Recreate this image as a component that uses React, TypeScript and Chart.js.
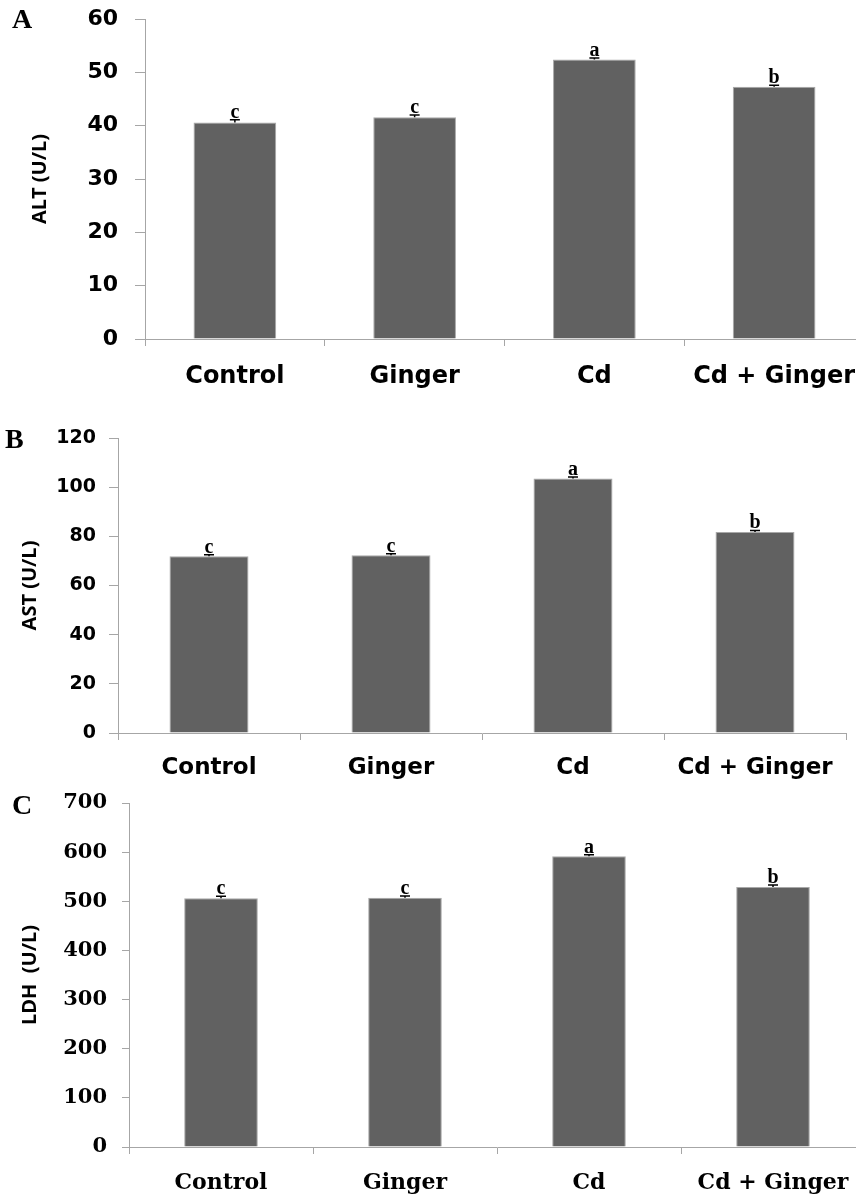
import React, { useEffect, useRef } from "react";
import { Chart, registerables } from "chart.js";

Chart.register(...registerables);

// ---------- data ----------
const categories = ["Control", "Ginger", "Cd", "Cd + Ginger"];

const altValues = [40.6, 41.6, 52.4, 47.3];
const altErrors = [0.5, 0.4, 0.3, 0.3];
const altLetters = ["c", "c", "a", "b"];
const altTicks = { min: 0, max: 60, step: 10 };

const astValues = [71.9, 72.3, 103.5, 81.8];
const astErrors = [0.6, 0.6, 0.6, 0.6];
const astLetters = ["c", "c", "a", "b"];
const astTicks = { min: 0, max: 120, step: 20 };

const ldhValues = [506, 507, 591.5, 529];
const ldhErrors = [4, 4, 3, 4];
const ldhLetters = ["c", "c", "a", "b"];
const ldhTicks = { min: 0, max: 700, step: 100 };

// ---------- plugin: error bars, significance letters, panel letter ----------
const annotPlugin = {
  id: "annot",
  afterDatasetsDraw(chart: any, _args: any, opts: any) {
    const { ctx } = chart;
    const meta = chart.getDatasetMeta(0);
    const yScale = chart.scales.y;
    const values = chart.data.datasets[0].data as number[];
    ctx.save();
    meta.data.forEach((bar: any, i: number) => {
      const v = values[i];
      const e = opts.errors[i];
      const x = bar.x;
      const yTop = yScale.getPixelForValue(v + e);
      const yBar = yScale.getPixelForValue(v);
      ctx.strokeStyle = "#000";
      ctx.lineWidth = 1.5;
      ctx.beginPath();
      ctx.moveTo(x, yBar);
      ctx.lineTo(x, yTop);
      ctx.moveTo(x - 5, yTop);
      ctx.lineTo(x + 5, yTop);
      ctx.stroke();
      ctx.fillStyle = "#000";
      ctx.font = 'bold 20px "Liberation Serif"';
      ctx.textAlign = "center";
      ctx.textBaseline = "alphabetic";
      ctx.fillText(opts.letters[i], x, yTop - 2);
    });
    ctx.restore();
  },
  afterDraw(chart: any, _args: any, opts: any) {
    const { ctx } = chart;
    ctx.save();
    ctx.fillStyle = "#000";
    ctx.font = 'bold 28px "Liberation Serif"';
    ctx.textAlign = "left";
    ctx.textBaseline = "alphabetic";
    ctx.fillText(opts.panel, opts.panelX, opts.panelY);
    ctx.restore();
  },
};

type PanelProps = {
  top: number;
  width: number;
  height: number;
  values: number[];
  errors: number[];
  letters: string[];
  ticks: { min: number; max: number; step: number };
  title: string;
  panel: string;
  panelX: number;
  panelY: number;
  areaLeft: number;
  areaTop: number;
  areaRight: number;
  areaBottom: number;
  tickFamily: string;
  yTickSize: number;
  xTickSize: number;
  yTickPad: number;
  yTickLen: number;
  xTickPad: number;
  titleCenterX: number;
  barPct: number;
};

function Panel(p: PanelProps) {
  const ref = useRef<HTMLCanvasElement | null>(null);
  useEffect(() => {
    if (!ref.current) return;
    const titleSize = 20;
    const chart = new Chart(ref.current, {
      type: "bar",
      data: {
        labels: categories,
        datasets: [
          {
            data: p.values,
            backgroundColor: "#616161",
            borderColor: "#a8a8a8",
            borderWidth: 1,
            categoryPercentage: 1,
            barPercentage: p.barPct,
          },
        ],
      },
      plugins: [annotPlugin],
      options: {
        animation: false,
        responsive: true,
        maintainAspectRatio: false,
        layout: {
          padding: {
            left: 0,
            top: p.areaTop,
            right: p.width - p.areaRight,
            bottom: 0,
          },
        },
        plugins: {
          legend: { display: false },
          tooltip: { enabled: false },
          annot: {
            errors: p.errors,
            letters: p.letters,
            panel: p.panel,
            panelX: p.panelX,
            panelY: p.panelY,
          },
        } as any,
        scales: {
          x: {
            offset: true,
            grid: {
              offset: true,
              drawOnChartArea: false,
              drawTicks: true,
              tickLength: 7,
              color: "#a6a6a6",
            },
            border: { color: "#a6a6a6", width: 1 },
            ticks: {
              autoSkip: false,
              maxRotation: 0,
              minRotation: 0,
              padding: p.xTickPad,
              color: "#000",
              font: { family: p.tickFamily, size: p.xTickSize, weight: "bold" },
            },
            afterFit: (scale: any) => {
              scale.height = p.height - p.areaBottom;
              scale.paddingLeft = 0;
              scale.paddingRight = 0;
            },
          },
          y: {
            min: p.ticks.min,
            max: p.ticks.max,
            grid: {
              drawOnChartArea: false,
              drawTicks: true,
              tickLength: p.yTickLen,
              color: "#a6a6a6",
            },
            border: { color: "#a6a6a6", width: 1 },
            ticks: {
              stepSize: p.ticks.step,
              padding: p.yTickPad,
              color: "#000",
              font: { family: p.tickFamily, size: p.yTickSize, weight: "bold" },
            },
            title: {
              display: true,
              text: p.title,
              color: "#000",
              font: { family: "Open Sans", size: titleSize, weight: "bold" },
              padding: { top: p.titleCenterX - (titleSize * 1.2) / 2, bottom: 0 },
            },
            afterFit: (scale: any) => {
              scale.width = p.areaLeft;
              scale.paddingTop = 0;
              scale.paddingBottom = 0;
            },
          },
        },
      } as any,
    });
    return () => chart.destroy();
  }, []);
  return (
    <div
      style={{
        position: "absolute",
        left: 0,
        top: p.top,
        width: p.width,
        height: p.height,
      }}
    >
      <canvas ref={ref} />
    </div>
  );
}

export default function App() {
  return (
    <div
      style={{
        position: "absolute",
        left: 0,
        top: 0,
        width: 856,
        height: 1196,
        overflow: "hidden",
        background: "#fff",
      }}
    >
      <Panel
        top={0}
        width={880}
        height={395}
        values={altValues}
        errors={altErrors}
        letters={altLetters}
        ticks={altTicks}
        title="ALT (U/L)"
        panel="A"
        panelX={12}
        panelY={28}
        areaLeft={145}
        areaTop={19}
        areaRight={864}
        areaBottom={339}
        tickFamily="DejaVu Sans"
        yTickSize={22}
        xTickSize={24}
        yTickPad={17}
        yTickLen={10}
        xTickPad={16}
        titleCenterX={40}
        barPct={0.46}
      />
      <Panel
        top={395}
        width={856}
        height={385}
        values={astValues}
        errors={astErrors}
        letters={astLetters}
        ticks={astTicks}
        title="AST (U/L)"
        panel="B"
        panelX={5}
        panelY={53}
        areaLeft={118}
        areaTop={43}
        areaRight={846}
        areaBottom={338}
        tickFamily="DejaVu Sans"
        yTickSize={19}
        xTickSize={23}
        yTickPad={13}
        yTickLen={9}
        xTickPad={14}
        titleCenterX={30}
        barPct={0.434}
      />
      <Panel
        top={780}
        width={880}
        height={416}
        values={ldhValues}
        errors={ldhErrors}
        letters={ldhLetters}
        ticks={ldhTicks}
        title="LDH  (U/L)"
        panel="C"
        panelX={12}
        panelY={34}
        areaLeft={129}
        areaTop={23}
        areaRight={865}
        areaBottom={367}
        tickFamily="DejaVu Serif"
        yTickSize={21}
        xTickSize={22}
        yTickPad={15}
        yTickLen={7}
        xTickPad={16}
        titleCenterX={30}
        barPct={0.4}
      />
    </div>
  );
}
